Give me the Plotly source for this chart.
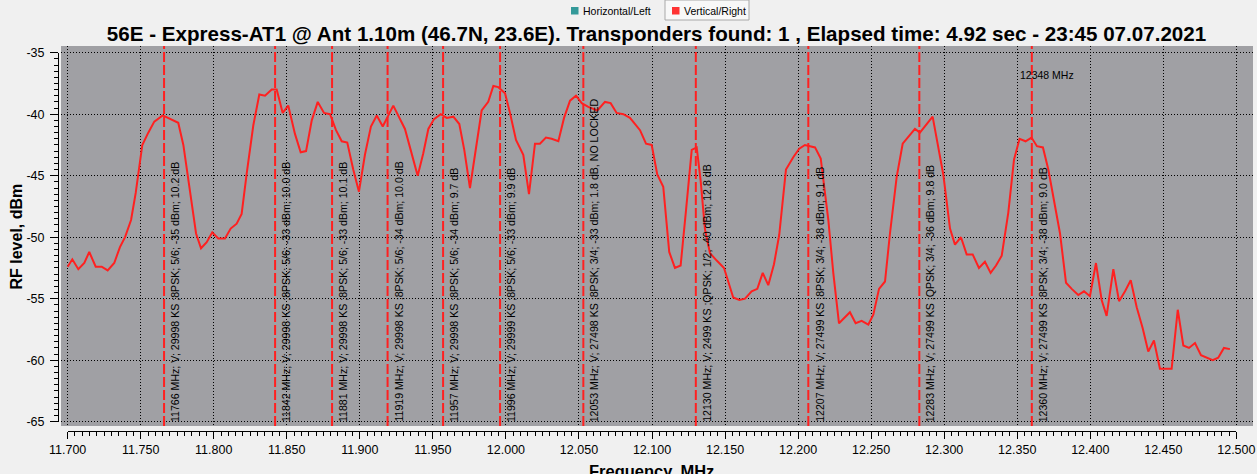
import plotly.graph_objects as go

# ---------------- data ----------------
freq_mhz = [11700.0, 11703.2, 11707.3, 11711.4, 11714.8, 11719.2, 11723.3, 11727.4, 11731.9, 11735.8,
            11739.3, 11743.4, 11746.6, 11751.1, 11755.2, 11759.3, 11765.1, 11775.7, 11779.2, 11787.9,
            11791.3, 11795.2, 11799.0, 11803.1, 11807.7, 11811.6, 11815.7, 11819.1, 11822.6, 11827.1,
            11831.2, 11835.1, 11839.7, 11843.1, 11847.2, 11851.0, 11855.6, 11859.5, 11863.2, 11867.1,
            11871.2, 11875.5, 11879.6, 11883.7, 11887.6, 11891.4, 11895.5, 11899.4, 11903.5, 11907.6,
            11911.6, 11915.7, 11922.9, 11930.9, 11934.8, 11939.6, 11943.4, 11946.9, 11950.8, 11955.4,
            11959.5, 11964.0, 11968.1, 11971.5, 11975.4, 11979.5, 11983.4, 11987.9, 11991.4, 11994.8,
            11999.4, 12002.8, 12006.9, 12011.9, 12015.8, 12019.9, 12023.3, 12027.4, 12031.3, 12035.9,
            12039.8, 12043.9, 12048.0, 12051.9, 12056.4, 12062.6, 12067.8, 12071.7, 12075.8, 12080.4,
            12084.9, 12091.8, 12095.9, 12099.8, 12103.6, 12107.7, 12111.8, 12115.7, 12119.6, 12123.3,
            12127.2, 12130.6, 12133.3, 12136.3, 12139.7, 12144.3, 12149.3, 12155.6, 12159.8, 12163.7,
            12168.2, 12172.1, 12175.8, 12179.6, 12183.5, 12187.1, 12191.7, 12196.7, 12200.8, 12204.7,
            12208.6, 12211.6, 12215.5, 12220.7, 12224.1, 12228.0, 12235.5, 12239.4, 12243.5, 12248.1,
            12251.5, 12255.4, 12259.5, 12262.9, 12267.5, 12271.6, 12280.0, 12283.4, 12292.1, 12299.4,
            12304.0, 12307.4, 12311.5, 12315.4, 12319.5, 12323.8, 12327.9, 12331.8, 12335.5, 12339.4,
            12343.9, 12347.8, 12351.6, 12355.7, 12359.8, 12363.5, 12367.6, 12371.3, 12379.3, 12383.4,
            12387.3, 12391.8, 12395.7, 12399.8, 12403.9, 12407.8, 12411.2, 12415.8, 12419.7, 12423.8,
            12427.7, 12431.8, 12435.9, 12439.7, 12443.6, 12447.7, 12451.6, 12455.7, 12459.9, 12463.7,
            12467.6, 12471.7, 12475.8, 12479.7, 12483.8, 12487.6, 12491.5, 12495.6]

level_dbm = [-52.4, -51.8, -52.6, -52.1, -51.2, -52.4, -52.4, -52.7, -52.1, -50.8,
             -50.0, -48.6, -46.4, -42.5, -41.5, -40.6, -40.1, -40.7, -42.5, -49.7,
             -50.9, -50.4, -49.6, -50.1, -50.1, -49.3, -48.9, -48.1, -44.8, -40.9,
             -38.4, -38.5, -38.0, -38.0, -39.9, -39.3, -41.6, -43.1, -43.0, -40.5,
             -39.0, -39.9, -40.0, -41.3, -42.2, -42.3, -44.5, -46.3, -43.3, -41.0,
             -40.1, -41.0, -39.3, -41.2, -42.9, -45.0, -43.2, -41.2, -40.4, -40.0,
             -40.3, -40.2, -40.8, -42.9, -46.0, -42.9, -39.7, -39.0, -37.7, -37.8,
             -38.3, -39.9, -42.1, -43.3, -46.5, -42.4, -42.4, -41.9, -42.0, -42.2,
             -40.3, -38.9, -38.5, -39.1, -39.4, -39.7, -39.0, -39.1, -39.9, -40.0,
             -40.3, -41.3, -42.4, -42.5, -44.9, -45.9, -51.2, -52.5, -52.3, -47.8,
             -42.9, -42.7, -45.4, -49.4, -51.3, -51.9, -52.5, -54.9, -55.1, -55.0,
             -54.4, -54.2, -52.9, -53.9, -52.2, -49.8, -44.5, -43.5, -42.8, -42.5,
             -42.6, -42.7, -43.6, -48.6, -52.9, -57.0, -56.1, -57.0, -56.8, -57.1,
             -56.3, -54.2, -53.6, -49.7, -45.1, -42.4, -41.2, -41.5, -40.2, -44.9,
             -49.3, -50.6, -50.0, -51.4, -51.4, -52.5, -52.0, -52.9, -52.3, -51.5,
             -48.0, -43.7, -42.0, -42.2, -41.9, -42.6, -42.7, -44.5, -49.7, -53.7,
             -54.2, -54.7, -54.4, -54.8, -52.1, -55.1, -56.4, -52.6, -55.2, -54.4,
             -53.5, -55.7, -57.4, -59.3, -58.4, -60.7, -60.7, -60.7, -55.9, -58.8,
             -59.0, -58.6, -59.6, -59.8, -60.0, -59.8, -59.0, -59.1]

tp_freq = [11766, 11842, 11881, 11919, 11957, 11996, 12053, 12130, 12207, 12283, 12360]
tp_pol = ["V"] * 11
tp_sr = [29998, 29998, 29998, 29998, 29998, 29999, 27498, 2499, 27499, 27499, 27499]
tp_mod = ["8PSK", "8PSK", "8PSK", "8PSK", "8PSK", "8PSK", "8PSK", "QPSK", "8PSK", "QPSK", "8PSK"]
tp_fec = ["5/6", "5/6", "5/6", "5/6", "5/6", "5/6", "3/4", "1/2", "3/4", "3/4", "3/4"]
tp_level = [-35, -33, -33, -34, -34, -33, -33, -40, -38, -36, -38]
tp_cn = ["10.2", "10.0", "10.1", "10.0", "9.7", "9.9", "1.8", "12.8", "9.1", "9.8", "9.0"]
tp_note = ["", "", "", "", "", "", ", NO LOCKED", "", "", "", ""]

marker_freq = 12348
marker_label = "12348 MHz"

x_tick_vals = [11700, 11750, 11800, 11850, 11900, 11950, 12000, 12050, 12100,
               12150, 12200, 12250, 12300, 12350, 12400, 12450, 12500]
x_tick_text = ["11.700", "11.750", "11.800", "11.850", "11.900", "11.950", "12.000", "12.050", "12.100",
               "12.150", "12.200", "12.250", "12.300", "12.350", "12.400", "12.450", "12.500"]
y_tick_vals = [-35, -40, -45, -50, -55, -60, -65]
y_tick_text = ["-35", "-40", "-45", "-50", "-55", "-60", "-65"]

legend_names = ["Horizontal/Left", "Vertical/Right"]
legend_colors = ["#339999", "#ff3333"]

title_text = ("56E - Express-AT1 @ Ant 1.10m (46.7N, 23.6E). Transponders found: 1 , "
              "Elapsed time: 4.92 sec - 23:45 07.07.2021")
x_title = "Frequency, MHz"
y_title = "RF level, dBm"

# ---------------- layout geometry (screen pixels) ----------------
FIG_W, FIG_H = 1257, 474
ML, MR, MT, MB = 58, 4, 46, 43
PW = FIG_W - ML - MR
PH = FIG_H - MT - MB


def px(x):
    """screen x -> paper x"""
    return (x - ML) / PW


def py(y):
    """screen y -> paper y"""
    return (FIG_H - MB - y) / PH


FONT = "Liberation Sans, Arial, sans-serif"
BG = "#f0f0f0"
GREY = "#a0a0a4"
RED = "#ff2020"

X_FULL = [11695.45, 12511.4]
Y_FULL = [-65.35, -34.455]

fig = go.Figure()

fig.add_trace(go.Scatter(x=freq_mhz, y=level_dbm, mode="lines",
                         line=dict(color=RED, width=2), showlegend=False,
                         hoverinfo="x+y", xaxis="x", yaxis="y"))
# invisible trace so the tick axes exist
fig.add_trace(go.Scatter(x=[None], y=[None], xaxis="x2", yaxis="y2",
                         showlegend=False, hoverinfo="skip"))

shapes = []
annotations = []

# grey plotting area (main subplot domain)
shapes.append(dict(type="rect", xref="x domain", yref="y domain", x0=0, x1=1, y0=0, y1=1,
                   fillcolor=GREY, line=dict(width=0), layer="below"))

# transponder markers and labels
for f, pol, sr, mod, fec, lvl, cn, note in zip(tp_freq, tp_pol, tp_sr, tp_mod, tp_fec,
                                              tp_level, tp_cn, tp_note):
    shapes.append(dict(type="line", xref="x", yref="y", x0=f, x1=f,
                       y0=Y_FULL[0], y1=Y_FULL[1], layer="above",
                       line=dict(color=RED, width=2, dash="10px,3px")))
    annotations.append(dict(
        x=f, xref="x", y=py(424), yref="paper",
        text=f"{f} MHz; {pol}; {sr} KS ;{mod}; {fec}; {lvl} dBm; {cn} dB{note}",
        textangle=-90, xanchor="left", yanchor="bottom", xshift=3,
        showarrow=False, font=dict(family=FONT, size=10.6, color="black")))

annotations.append(dict(x=marker_freq, xref="x", y=py(75.5), yref="paper",
                        text=marker_label, xanchor="left", yanchor="middle", xshift=4,
                        showarrow=False, font=dict(family=FONT, size=10.5, color="black")))

# legend (drawn manually to reproduce the toolbar-like look)
shapes.append(dict(type="rect", xref="paper", yref="paper",
                   x0=px(665), x1=px(749), y0=py(20), y1=py(0),
                   fillcolor="#f8f8f8", line=dict(color="#a8a8a8", width=1), layer="above"))
leg_sq_x = [571, 672]
leg_txt_x = [580.5, 681.5]
for name, col, sx, tx in zip(legend_names, legend_colors, leg_sq_x, leg_txt_x):
    shapes.append(dict(type="rect", xref="paper", yref="paper",
                       x0=px(sx), x1=px(sx + 7.5), y0=py(14.5), y1=py(7),
                       fillcolor=col, line=dict(width=0), layer="above"))
    annotations.append(dict(x=px(tx), y=py(11), xref="paper", yref="paper",
                            text=name, xanchor="left", yanchor="middle", showarrow=False,
                            font=dict(family=FONT, size=10.5, color="black")))

# axis titles
annotations.append(dict(x=px(651.5), y=py(471), xref="paper", yref="paper",
                        text=f"<b>{x_title}</b>", xanchor="center", yanchor="middle",
                        showarrow=False, font=dict(family=FONT, size=16.5, color="black")))
annotations.append(dict(x=px(15.5), y=py(237), xref="paper", yref="paper",
                        text=f"<b>{y_title}</b>", textangle=-90, xanchor="center", yanchor="middle",
                        showarrow=False, font=dict(family=FONT, size=16, color="black")))

grid_common = dict(showgrid=True, gridcolor="black", gridwidth=1, griddash="1px,2px",
                   showline=False, zeroline=False, ticks="", showticklabels=False,
                   fixedrange=True, automargin=False)

fig.update_layout(
    width=FIG_W, height=FIG_H,
    margin=dict(l=ML, r=MR, t=MT, b=MB, pad=0, autoexpand=False),
    paper_bgcolor=BG, plot_bgcolor="rgba(0,0,0,0)",
    showlegend=False,
    title=dict(text=f"<b>{title_text}</b>", x=656.5 / FIG_W, xanchor="center",
               xref="container", y=1 - 34 / FIG_H, yanchor="middle", yref="container",
               font=dict(family=FONT, size=20.6, color="black"), automargin=False),
    xaxis=dict(domain=[px(61), px(1253)], range=X_FULL, anchor="y",
               tick0=11700, dtick=50, tickmode="linear", **grid_common),
    yaxis=dict(domain=[py(426), py(46)], range=Y_FULL, anchor="x",
               tick0=-35, dtick=5, tickmode="linear", **grid_common),
    xaxis2=dict(domain=[px(67.65), px(1236.35)], range=[11700, 12500], anchor="free", position=0,
                showgrid=False, zeroline=False, showline=True, linecolor="black", linewidth=1,
                tickmode="array", tickvals=x_tick_vals, ticktext=x_tick_text,
                ticks="outside", ticklen=7, tickwidth=1, tickcolor="black",
                minor=dict(tickmode="linear", tick0=11700, dtick=5, ticks="outside",
                           ticklen=4, tickcolor="black", showgrid=False),
                tickfont=dict(family=FONT, size=12.5, color="black"), fixedrange=True,
                automargin=False),
    yaxis2=dict(domain=[py(421.7), py(52.7)], range=[-65, -35], anchor="free", position=0,
                showgrid=False, zeroline=False, showline=True, linecolor="black", linewidth=1,
                tickmode="array", tickvals=y_tick_vals, ticktext=y_tick_text,
                ticks="outside", ticklen=8, tickwidth=1, tickcolor="black",
                ticklabelstandoff=3,
                minor=dict(tickmode="linear", tick0=-65, dtick=0.5, ticks="outside",
                           ticklen=4, tickcolor="black", showgrid=False),
                tickfont=dict(family=FONT, size=12.5, color="black"), fixedrange=True,
                automargin=False),
    shapes=shapes,
    annotations=annotations,
)

# remove the default 8px page margin so the figure sits at the window's top-left corner
fig.write_html("out.html",
               config={"displayModeBar": False},
               post_script="document.body.style.margin='0px';"
                           "document.body.style.background='#f0f0f0';")
